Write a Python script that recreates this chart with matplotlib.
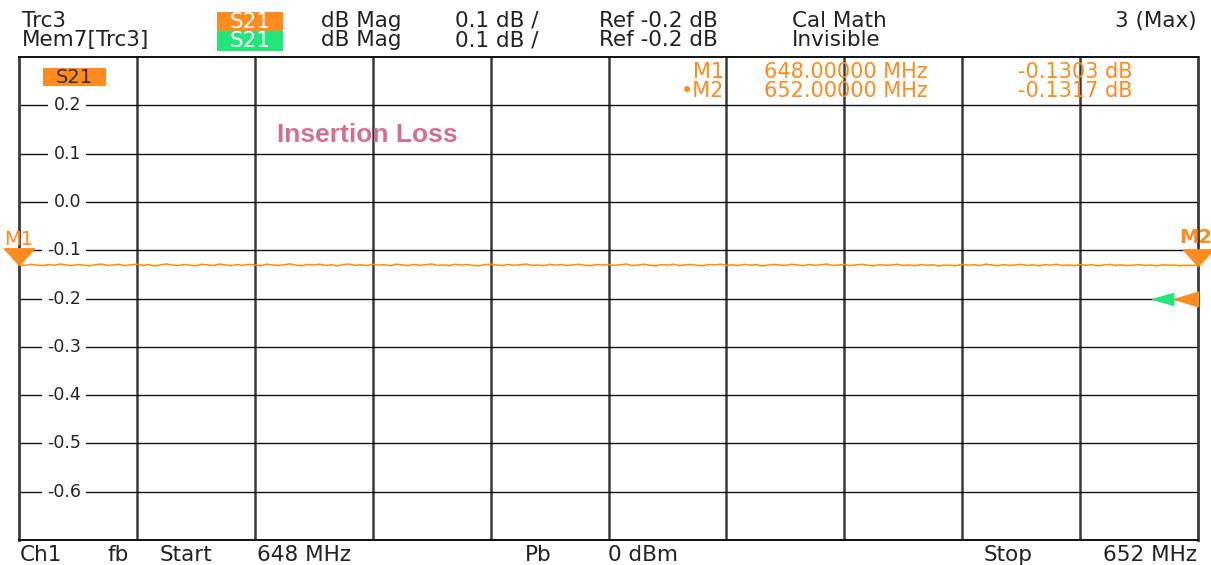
import matplotlib
matplotlib.use("Agg")
import matplotlib.pyplot as plt
import numpy as np

# ---------------- data ----------------
f_start, f_stop = 648.0, 652.0          # MHz
y_top, y_bottom = 0.3, -0.7              # dB
ref_level = -0.2
ytick_vals = [0.2, 0.1, 0.0, -0.1, -0.2, -0.3, -0.4, -0.5, -0.6]
ytick_labels = ["0.2", "0.1", "0.0", "-0.1", "-0.2", "-0.3", "-0.4", "-0.5", "-0.6"]

trace_db = [
    -0.1303, -0.1318, -0.1292, -0.1309, -0.1321, -0.1297, -0.1312, -0.1286, -0.1305, -0.1320,
    -0.1294, -0.1311, -0.1325, -0.1299, -0.1288, -0.1315, -0.1306, -0.1291, -0.1323, -0.1302,
    -0.1289, -0.1314, -0.1298, -0.1327, -0.1304, -0.1284, -0.1308, -0.1319, -0.1295, -0.1312,
    -0.1322, -0.1290, -0.1306, -0.1316, -0.1287, -0.1303, -0.1320, -0.1297, -0.1313, -0.1292,
    -0.1307, -0.1324, -0.1289, -0.1305, -0.1318, -0.1299, -0.1283, -0.1311, -0.1322, -0.1294,
    -0.1306, -0.1290, -0.1315, -0.1302, -0.1326, -0.1296, -0.1287, -0.1313, -0.1304, -0.1320,
    -0.1291, -0.1308, -0.1298, -0.1323, -0.1288, -0.1306, -0.1317, -0.1294, -0.1311, -0.1302,
    -0.1285, -0.1316, -0.1305, -0.1321, -0.1290, -0.1308, -0.1297, -0.1314, -0.1326, -0.1299,
    -0.1288, -0.1306, -0.1319, -0.1294, -0.1312, -0.1302, -0.1287, -0.1315, -0.1306, -0.1323,
    -0.1292, -0.1309, -0.1298, -0.1318, -0.1304, -0.1290, -0.1313, -0.1321, -0.1296, -0.1308,
    -0.1294, -0.1316, -0.1302, -0.1286, -0.1320, -0.1306, -0.1291, -0.1312, -0.1326, -0.1299,
    -0.1308, -0.1290, -0.1318, -0.1304, -0.1295, -0.1313, -0.1324, -0.1297, -0.1306, -0.1288,
    -0.1316, -0.1302, -0.1320, -0.1292, -0.1309, -0.1299, -0.1327, -0.1311, -0.1294, -0.1306,
    -0.1318, -0.1290, -0.1304, -0.1322, -0.1296, -0.1314, -0.1302, -0.1286, -0.1316, -0.1308,
    -0.1294, -0.1320, -0.1304, -0.1290, -0.1312, -0.1325, -0.1299, -0.1313, -0.1306, -0.1291,
    -0.1318, -0.1304, -0.1322, -0.1297, -0.1311, -0.1302, -0.1328, -0.1308, -0.1315, -0.1320,
    -0.1294, -0.1310, -0.1302, -0.1319, -0.1288, -0.1307, -0.1323, -0.1299, -0.1314, -0.1305,
    -0.1292, -0.1317, -0.1303, -0.1325, -0.1298, -0.1310, -0.1290, -0.1316, -0.1306, -0.1321,
    -0.1296, -0.1312, -0.1300, -0.1324, -0.1307, -0.1293, -0.1315, -0.1304, -0.1320, -0.1309,
    -0.1298, -0.1318, -0.1305, -0.1326, -0.1301, -0.1313, -0.1308, -0.1322, -0.1311, -0.1317,
    -0.1317,
]
m1_freq, m1_val = 648.0, -0.1303
m2_freq, m2_val = 652.0, -0.1317

# ---------------- styles ----------------
W, H = 1211, 565
ORANGE = "#ff8a1e"
TRACE = "#ff8c10"
GREEN = "#22e67a"
PINK = "#d4708f"
plt.rcParams["font.family"] = ["DejaVu Sans"]

def fx(x):
    return x / W

def fy(y):
    return 1 - y / H

fig = plt.figure(figsize=(W / 100, H / 100), dpi=100)
fig.patch.set_facecolor("white")
ax = fig.add_axes([fx(19), fy(540), 1179 / W, 483 / H])
ax.set_xlim(f_start, f_stop)
ax.set_ylim(y_bottom, y_top)

# grid
for xv in np.linspace(f_start, f_stop, 11)[1:-1]:
    ax.axvline(xv, color="#3a3a3a", lw=1.8, zorder=1)
for yv in np.linspace(y_bottom, y_top, 11)[1:-1]:
    ax.axhline(yv, color="#111111", lw=1.0, zorder=1)
ax.set_xticks([])
ax.set_yticks([])
for side in ["left", "right"]:
    ax.spines[side].set_color("#3a3a3a")
    ax.spines[side].set_linewidth(2.0)
for side in ["top", "bottom"]:
    ax.spines[side].set_color("#111111")
    ax.spines[side].set_linewidth(1.4)

# y labels inside
for v, lab in zip(ytick_vals, ytick_labels):
    ax.annotate(lab, xy=(0, v), xycoords=("axes fraction", "data"),
                xytext=(62, 0), textcoords="offset pixels",
                ha="right", va="center", fontsize=12.5, color="#222222",
                bbox=dict(boxstyle="square,pad=0.3", fc="white", ec="none"), zorder=3)

# trace
freqs = np.linspace(f_start, f_stop, len(trace_db))
ax.plot(freqs, trace_db, color=TRACE, lw=1.1, zorder=4)

# marker triangles (tip at value)
tri_down = [(0, 0), (-1.0, 1.1), (1.0, 1.1), (0, 0)]
ax.plot([m1_freq], [m1_val], marker=tri_down, ms=24, color=ORANGE, mec=ORANGE,
        clip_on=False, zorder=6, ls="none")
ax.plot([m2_freq], [m2_val], marker=tri_down, ms=24, color=ORANGE, mec=ORANGE,
        clip_on=False, zorder=6, ls="none")
ax.annotate("M1", xy=(m1_freq, m1_val), xytext=(0, 16), textcoords="offset pixels",
            ha="center", va="bottom", fontsize=14, color=ORANGE, annotation_clip=False)
ax.annotate("M2", xy=(m2_freq, m2_val), xytext=(-2, 19), textcoords="offset pixels",
            ha="center", va="bottom", fontsize=14, fontweight="bold", color=ORANGE,
            annotation_clip=False)

# reference level arrows at right edge
tri_left_or = [(0, -0.55), (0, 0.55), (-1.8, 0), (0, -0.55)]
ax.plot([f_stop], [ref_level], marker=tri_left_or, ms=34.5, color=ORANGE, mec=ORANGE,
        clip_on=False, zorder=6, ls="none")
tri_left_gr = [(-1.9, -0.45), (-1.9, 0.45), (-3.5, 0), (-1.9, -0.45)]
ax.plot([f_stop], [ref_level], marker=tri_left_gr, ms=66, color=GREEN, mec=GREEN,
        clip_on=False, zorder=5, ls="none")

# boxes
def box(x0, y0, x1, y1, color):
    fig.add_artist(plt.Rectangle((fx(x0), fy(y1)), (x1 - x0) / W, (y1 - y0) / H,
                                 transform=fig.transFigure, fc=color, ec="none", zorder=10))

box(43, 68, 106, 86, ORANGE)
fig.text(fx(74.5), fy(77.5), "S21", ha="center", va="center", fontsize=14,
         color="#333333", zorder=11)

# Insertion Loss label
fig.text(fx(277), fy(135), "Insertion Loss", ha="left", va="center", fontsize=19,
         fontweight="bold", family="Liberation Sans", color=PINK, zorder=11)

# marker readout
FS_M = 15
for yy, lab, freq_s, val_s in [(72, "M1", "648.00000 MHz", "-0.1303 dB"),
                               (91, "\u2022M2", "652.00000 MHz", "-0.1317 dB")]:
    fig.text(fx(724), fy(yy), lab, ha="right", va="center", fontsize=FS_M, color=ORANGE, zorder=11)
    fig.text(fx(846), fy(yy), freq_s, ha="center", va="center", fontsize=FS_M, color=ORANGE, zorder=11)
    fig.text(fx(1075), fy(yy), val_s, ha="center", va="center", fontsize=FS_M, color=ORANGE, zorder=11)

# header
FS = 15.5
TXT = "#222222"
box(217, 12, 283, 31, ORANGE)
box(217, 31, 283, 51, GREEN)
fig.text(fx(250), fy(21.5), "S21", ha="center", va="center", fontsize=FS, color="white", zorder=11)
fig.text(fx(250), fy(41), "S21", ha="center", va="center", fontsize=FS, color="white", zorder=11)
for yy, first, last in [(21, "Trc3", "Cal Math"), (40, "Mem7[Trc3]", "Invisible")]:
    fig.text(fx(22), fy(yy), first, ha="left", va="center", fontsize=FS, color=TXT)
    fig.text(fx(361), fy(yy), "dB Mag", ha="center", va="center", fontsize=FS, color=TXT)
    fig.text(fx(497), fy(yy), "0.1 dB /", ha="center", va="center", fontsize=FS, color=TXT)
    fig.text(fx(658), fy(yy), "Ref -0.2 dB", ha="center", va="center", fontsize=FS, color=TXT)
    fig.text(fx(792), fy(yy), last, ha="left", va="center", fontsize=FS, color=TXT)
fig.text(fx(1197), fy(21), "3 (Max)", ha="right", va="center", fontsize=FS, color=TXT)

# footer
yb = 555
fig.text(fx(20), fy(yb), "Ch1", ha="left", va="center", fontsize=FS, color=TXT)
for cx, s in [(118, "fb"), (186, "Start"), (304, "648 MHz"),
              (538, "Pb"), (643, "0 dBm"), (1008, "Stop")]:
    fig.text(fx(cx), fy(yb), s, ha="center", va="center", fontsize=FS, color=TXT)
fig.text(fx(1197), fy(yb), "652 MHz", ha="right", va="center", fontsize=FS, color=TXT)

fig.savefig("out.png", dpi=100, facecolor="white")
